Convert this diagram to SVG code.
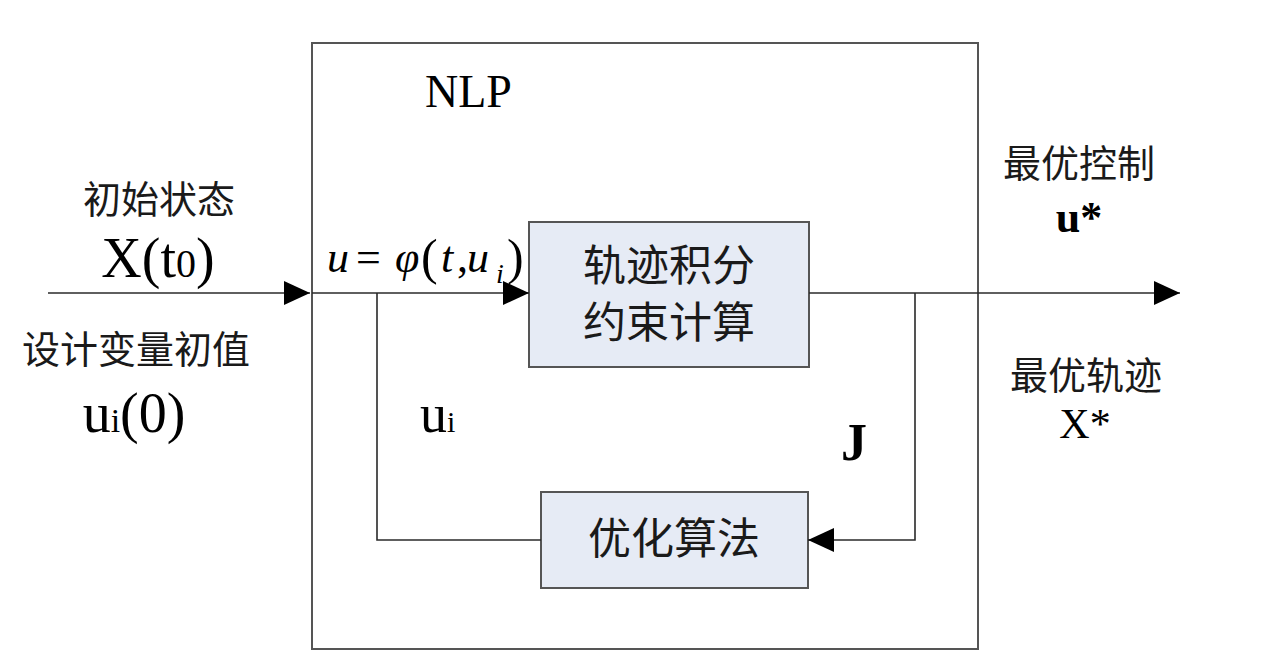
<svg xmlns="http://www.w3.org/2000/svg" width="1280" height="663" viewBox="0 0 1280 663">
<defs>
<style>
.ln{fill:none;stroke:#2a2a2a;stroke-width:1.6}
.box{fill:#e6ebf5;stroke:#555;stroke-width:2}
.frame{fill:none;stroke:#555;stroke-width:2}
.cjk{font-family:"Liberation Serif","Noto Sans CJK SC",serif;fill:#1a1a1a}
.tm{font-family:"Liberation Serif","Times New Roman",serif;fill:#000}
</style>
<marker id="ah" markerUnits="userSpaceOnUse" viewBox="0 0 26 24" refX="26" refY="12" markerWidth="26" markerHeight="24" orient="auto">
<path d="M0,0 L26,12 L0,24 Z" fill="#000"/>
</marker>
</defs>
<rect width="1280" height="663" fill="#fff"/>

<g id="nlp">
<rect class="frame" x="312" y="43" width="666" height="606"/>
<text class="tm" x="425" y="107" font-size="46">NLP</text>
</g>

<g id="traj">
<rect class="box" x="529" y="222" width="280" height="145"/>
<text class="cjk" x="669" y="281" font-size="43" text-anchor="middle">轨迹积分</text>
<text class="cjk" x="669" y="338" font-size="43" text-anchor="middle">约束计算</text>
</g>

<g id="opt">
<rect class="box" x="541" y="492" width="267" height="96"/>
<text class="cjk" x="674" y="554" font-size="43" text-anchor="middle">优化算法</text>
</g>

<g id="input-labels">
<text class="cjk" x="159" y="213" font-size="38" text-anchor="middle">初始状态</text>
<text class="tm" x="158" y="277" font-size="56" text-anchor="middle">X(t<tspan font-size="40">0</tspan>)</text>
<text class="cjk" x="136" y="363" font-size="38" text-anchor="middle">设计变量初值</text>
<text class="tm" x="134" y="432" font-size="56" text-anchor="middle">u<tspan font-size="34">i</tspan>(0)</text>
</g>

<g id="output-labels">
<text class="cjk" x="1079" y="177" font-size="38" text-anchor="middle">最优控制</text>
<text class="tm" x="1079" y="232" font-size="44" font-weight="bold" text-anchor="middle">u*</text>
<text class="cjk" x="1086" y="389" font-size="38" text-anchor="middle">最优轨迹</text>
<text class="tm" x="1085" y="438" font-size="42" text-anchor="middle">X*</text>
</g>

<g id="inner-labels">
<text class="tm" font-size="44" font-style="italic" y="272"><tspan x="327">u</tspan><tspan x="356" font-style="normal">=</tspan><tspan x="395">φ</tspan><tspan x="421" y="274" font-size="50" font-style="normal">(</tspan><tspan x="441" y="272">t</tspan><tspan x="457" font-style="normal">,</tspan><tspan x="467">u</tspan><tspan x="496" y="283" font-size="28">i</tspan><tspan x="507" y="274" font-size="50" font-style="normal">)</tspan></text>
<text class="tm" x="420" y="432" font-size="54">u<tspan font-size="30">i</tspan></text>
<text class="tm" x="841" y="460" font-size="52" font-weight="bold">J</text>
</g>

<g id="connectors">
<line class="ln" x1="48" y1="293" x2="310" y2="293" marker-end="url(#ah)"/>
<line class="ln" x1="312" y1="293" x2="529" y2="293" marker-end="url(#ah)"/>
<polyline class="ln" points="377,293 377,540 541,540"/>
<line class="ln" x1="809" y1="293" x2="1180" y2="293" marker-end="url(#ah)"/>
<polyline class="ln" points="915,293 915,540 808,540" marker-end="url(#ah)"/>
</g>
</svg>
